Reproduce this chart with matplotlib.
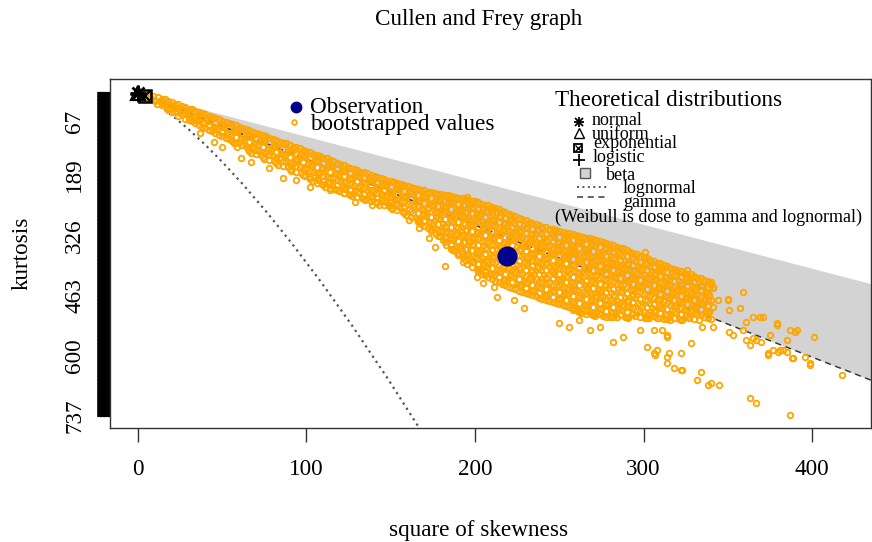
import matplotlib
matplotlib.use("Agg")
import matplotlib.pyplot as plt
import numpy as np

plt.rcParams['font.family'] = ['Liberation Serif', 'DejaVu Serif']

# observed sample
obs_s2 = 219
obs_kurt = 373

# theoretical points: normal, uniform, exponential, logistic
theo_s2 = [0, 0, 4, 0]
theo_kurt = [3, 1.8, 9, 4.2]

# beta region (between the two bounds) and gamma line
beta_s2 = [0, 450]
beta_top = [1, 451]
beta_bottom = [3, 678]
gamma_s2 = [0, 450]
gamma_kurt = [3, 678]

# lognormal curve
lnorm_s2 = [0, 2.6, 6.1, 10.5, 16, 22.6, 30.4, 39.5, 50, 62.0, 75.6, 90.9, 108, 127.0, 147.9, 170.9, 196]
lnorm_kurt = [3, 8.0, 15.6, 26.3, 41, 60.6, 86.1, 118.5, 159, 208.9, 269.6, 342.4, 429, 531.0, 650.1, 788.1, 947]

# bootstrapped values (dense core, one line per column)
boot_s2 = [
    3, 2, 4, 6, 7, 5, 9, 8, 10, 12, 13, 11, 16, 15, 17,
    20, 21, 19, 20, 24, 23, 25, 24, 28, 29, 27, 28, 32, 31, 33, 32,
    36, 37, 35, 36, 40, 41, 39, 40, 44, 43, 45, 44, 48, 49, 47, 48,
    52, 51, 53, 52,
    56, 57, 55, 56, 57, 60, 59, 61, 60, 59, 64, 65, 63, 64, 65,
    68, 67, 69, 68, 67, 72, 73, 71, 72, 73, 76, 75, 77, 76, 75,
    80, 81, 79, 80, 81, 84, 83, 85, 84, 83, 88, 89, 87, 88, 89,
    92, 91, 93, 92, 91, 96, 97, 95, 96, 97, 100, 99, 101, 100, 99,
    104, 105, 103, 104, 105, 103,
    108, 107, 109, 108, 107, 109,
    112, 113, 111, 112, 113, 111,
    116, 115, 117, 116, 115, 117,
    120, 121, 119, 120, 121, 119,
    124, 123, 125, 124, 123, 125,
    128, 129, 127, 128, 129, 127,
    132, 131, 133, 132, 131, 133,
    136, 137, 135, 136, 137, 135,
    140, 139, 141, 140, 139, 141,
    144, 145, 143, 144, 145, 143,
    148, 147, 149, 148, 147, 149,
    152, 153, 151, 152, 153, 151,
    156, 155, 157, 156, 155, 157,
    160, 161, 159, 160, 161, 159,
    164, 163, 165, 164, 163, 165,
    168, 169, 167, 168, 169, 167, 168,
    172, 171, 173, 172, 171, 173, 172,
    176, 177, 175, 176, 177, 175, 176, 177,
    180, 179, 181, 180, 179, 181, 180, 179, 181,
    184, 185, 183, 184, 185, 183, 184, 185, 183,
    188, 187, 189, 188, 187, 189, 188, 187, 189, 188,
    192, 193, 191, 192, 193, 191, 192, 193, 191, 192, 193,
    196, 197, 195, 196, 197, 195, 196, 197, 195, 196, 197, 195,
    200, 199, 201, 200, 199, 201, 200, 199, 201, 200, 199, 201,
    204, 205, 203, 204, 205, 203, 204, 205, 203, 204, 205, 203, 204,
    208, 207, 209, 208, 207, 209, 208, 207, 209, 208, 207, 209, 208,
    212, 213, 211, 212, 213, 211, 212, 213, 211, 212, 213, 211, 212,
    216, 215, 217, 216, 215, 217, 216, 215, 217, 216, 215, 217, 216,
    220, 221, 219, 220, 221, 219, 220, 221, 219, 220, 221, 219, 220,
    224, 223, 225, 224, 223, 225, 224, 223, 225, 224, 223, 225, 224,
    228, 229, 227, 228, 229, 227, 228, 229, 227, 228, 229, 227, 228,
    232, 231, 233, 232, 231, 233, 232, 231, 233, 232, 231, 233, 232,
    236, 237, 235, 236, 237, 235, 236, 237, 235, 236, 237, 235, 236,
    240, 239, 241, 240, 239, 241, 240, 239, 241, 240, 239, 241, 240,
    244, 245, 243, 244, 245, 243, 244, 245, 243, 244, 245, 243, 244,
    248, 247, 249, 248, 247, 249, 248, 247, 249, 248, 247, 249, 248,
    252, 253, 251, 252, 253, 251, 252, 253, 251, 252, 253, 251, 252,
    256, 255, 257, 256, 255, 257, 256, 255, 257, 256, 255, 257, 256,
    260, 261, 259, 260, 261, 259, 260, 261, 259, 260, 261, 259, 260, 261,
    264, 263, 265, 264, 263, 265, 264, 263, 265, 264, 263, 265, 264, 263,
    268, 269, 267, 268, 269, 267, 268, 269, 267, 268, 269, 267, 268, 269,
    272, 271, 273, 272, 271, 273, 272, 271, 273, 272, 271, 273, 272, 271,
    276, 277, 275, 276, 277, 275, 276, 277, 275, 276, 277, 275, 276,
    280, 279, 281, 280, 279, 281, 280, 279, 281, 280, 279, 281, 280,
    284, 285, 283, 284, 285, 283, 284, 285, 283, 284, 285, 283, 284,
    288, 287, 289, 288, 287, 289, 288, 287, 289, 288, 287, 289,
    292, 293, 291, 292, 293, 291, 292, 293, 291, 292, 293, 291,
    296, 295, 297, 296, 295, 297, 296, 295, 297, 296, 295,
    300, 301, 299, 300, 301, 299, 300, 301, 299, 300, 301,
    304, 303, 305, 304, 303, 305, 304, 303, 305, 304, 303,
    308, 309, 307, 308, 309, 307, 308, 309, 307, 308,
    312, 311, 313, 312, 311, 313, 312, 311, 313, 312,
    316, 317, 315, 316, 317, 315, 316, 317, 315, 316,
    320, 319, 321, 320, 319, 321, 320, 319, 321,
    324, 325, 323, 324, 325, 323, 324, 325, 323,
    328, 327, 329, 328, 327, 329, 328, 327,
    332, 333, 331, 332, 333, 331, 332, 333,
    336, 335, 337, 336, 335, 337, 336,
    340, 341, 339, 340, 341, 339, 340,
]
boot_kurt = [
    4, 8, 13, 6, 12, 16, 10, 15, 21, 12, 20, 27, 17, 25, 36,
    22, 32, 39, 46, 28, 36, 47, 54, 33, 44, 51, 61, 38, 49, 59, 67,
    45, 53, 66, 74, 50, 62, 71, 83, 57, 66, 80, 89, 61, 74, 84, 98,
    68, 79, 93, 104,
    72, 86, 97, 111, 117, 79, 90, 105, 115, 124, 84, 98, 109, 123, 130,
    90, 101, 116, 126, 138, 95, 109, 120, 135, 144, 101, 112, 128, 139, 152,
    106, 120, 131, 146, 157, 113, 124, 140, 151, 166, 117, 132, 144, 160, 171,
    124, 136, 152, 164, 180, 128, 143, 155, 171, 184, 135, 147, 163, 176, 192,
    140, 154, 166, 182, 194, 203,
    146, 157, 173, 185, 201, 209,
    151, 165, 177, 193, 204, 215,
    158, 169, 185, 196, 211, 220,
    163, 177, 188, 203, 213, 226,
    170, 180, 195, 206, 220, 231,
    174, 188, 198, 213, 223, 236,
    181, 191, 205, 215, 230, 240,
    185, 198, 208, 222, 232, 246,
    192, 202, 216, 226, 240, 250,
    196, 209, 219, 233, 243, 257,
    202, 212, 226, 236, 250, 260,
    205, 219, 229, 243, 253, 267,
    210, 221, 236, 247, 261, 271,
    214, 228, 239, 254, 265, 280,
    219, 231, 247, 259, 275, 287,
    222, 237, 249, 265, 277, 293, 300,
    227, 239, 255, 267, 283, 295, 310,
    229, 244, 256, 272, 284, 300, 311, 322,
    233, 245, 261, 273, 289, 301, 317, 328, 337,
    235, 250, 262, 278, 290, 306, 318, 334, 347,
    239, 251, 267, 279, 295, 307, 323, 335, 351, 362,
    242, 257, 269, 285, 297, 313, 325, 341, 353, 369, 376,
    246, 258, 274, 286, 302, 314, 330, 342, 358, 370, 385, 391,
    248, 263, 275, 291, 303, 319, 331, 347, 359, 375, 387, 402,
    254, 266, 282, 294, 310, 322, 338, 350, 366, 378, 394, 406, 413,
    258, 273, 285, 301, 313, 329, 341, 357, 369, 385, 397, 413, 421,
    264, 276, 292, 304, 320, 332, 348, 360, 376, 388, 404, 416, 429,
    270, 285, 297, 313, 325, 341, 353, 369, 381, 397, 409, 425, 436,
    277, 289, 305, 317, 333, 345, 361, 373, 389, 401, 417, 429, 444,
    282, 297, 309, 325, 337, 353, 365, 381, 393, 409, 421, 437, 449,
    290, 302, 318, 330, 346, 358, 374, 386, 402, 414, 430, 442, 455,
    295, 310, 322, 338, 350, 366, 378, 394, 406, 422, 434, 450, 460,
    301, 313, 329, 341, 357, 369, 385, 397, 413, 425, 441, 453, 465,
    306, 321, 333, 349, 361, 377, 389, 405, 417, 433, 445, 461, 470,
    311, 323, 339, 351, 367, 379, 395, 407, 423, 435, 451, 463, 475,
    314, 329, 341, 357, 369, 385, 397, 413, 425, 441, 453, 469, 480,
    319, 331, 347, 359, 375, 387, 403, 415, 431, 443, 459, 471, 485,
    321, 336, 348, 364, 376, 392, 404, 420, 432, 448, 460, 476, 489,
    326, 338, 354, 366, 382, 394, 410, 422, 438, 450, 466, 478, 494, 498,
    329, 344, 356, 372, 384, 400, 412, 428, 440, 456, 468, 484, 496, 502,
    333, 345, 361, 373, 389, 401, 417, 429, 445, 457, 473, 485, 501, 506,
    336, 351, 363, 379, 391, 407, 419, 435, 447, 463, 475, 491, 503, 509,
    342, 354, 370, 382, 398, 410, 426, 438, 454, 466, 482, 494, 509,
    346, 361, 373, 389, 401, 417, 429, 445, 457, 473, 485, 501, 512,
    352, 364, 380, 392, 408, 420, 436, 448, 464, 476, 492, 504, 512,
    357, 372, 384, 400, 412, 428, 440, 456, 468, 484, 496, 511,
    364, 376, 392, 404, 420, 432, 448, 460, 476, 488, 504, 513,
    369, 384, 396, 412, 424, 440, 452, 468, 480, 496, 509,
    376, 388, 404, 416, 432, 444, 460, 472, 488, 500, 514,
    381, 396, 408, 424, 436, 452, 464, 480, 492, 508, 515,
    388, 400, 416, 428, 444, 456, 472, 484, 500, 513,
    393, 408, 420, 436, 448, 464, 476, 492, 504, 517,
    400, 412, 428, 440, 456, 468, 484, 496, 512, 518,
    404, 419, 431, 447, 459, 475, 487, 503, 516,
    411, 423, 439, 451, 467, 479, 495, 507, 519,
    415, 430, 442, 458, 470, 486, 498, 513,
    422, 434, 450, 462, 478, 490, 506, 519,
    427, 442, 454, 470, 482, 498, 511,
    433, 445, 461, 473, 489, 501, 516,
]

# more bootstrapped values of the core, between the columns above
boot_mid_cols = [
    14, 18, 22, 26, 30, 34, 38, 42, 46, 50, 54, 58, 62, 66, 70, 74, 78, 82,
    86, 90, 94, 98, 102, 106, 110, 114, 118, 122, 126, 130, 134, 138, 142,
    146, 150, 154, 158, 162, 166, 170, 174, 178, 182, 186, 190, 194, 198,
    202, 206, 210, 214, 218, 222, 226, 230, 234, 238, 242, 246, 250, 254,
    258, 262, 266, 270, 274, 278, 282, 286, 290, 294, 298, 302, 306, 310,
    314, 318, 322, 326, 330, 334, 338,
]
boot_mid_kurt = [
    [16, 23, 30], [21, 30, 40], [27, 36, 44], [32, 42, 51],
    [38, 48, 57, 64], [43, 54, 63, 71], [48, 59, 68, 79], [54, 65, 76, 86],
    [59, 71, 82, 93], [66, 78, 90, 101], [70, 83, 96, 108], [76, 89, 102, 115],
    [82, 95, 108, 120], [87, 100, 113, 126, 134], [93, 106, 119, 131, 141],
    [98, 111, 124, 137, 148], [104, 117, 130, 143, 155], [110, 123, 136, 149, 162],
    [115, 129, 142, 156, 169], [121, 134, 148, 162, 176], [126, 140, 154, 168, 182],
    [131, 145, 159, 174, 188], [137, 151, 165, 179, 193, 199],
    [143, 157, 170, 184, 198, 206], [149, 162, 176, 190, 203, 212],
    [155, 168, 181, 195, 208, 218], [161, 174, 187, 200, 212, 223],
    [166, 179, 192, 205, 217, 229], [172, 184, 197, 210, 222, 234],
    [177, 190, 202, 215, 227, 238], [183, 195, 207, 219, 231, 243],
    [188, 200, 212, 224, 236, 248], [194, 206, 218, 230, 242, 253],
    [199, 211, 223, 235, 247, 258], [203, 215, 227, 239, 251, 263],
    [207, 220, 232, 245, 257, 269], [212, 225, 238, 251, 263, 276],
    [216, 230, 243, 257, 270, 284], [220, 234, 248, 262, 276, 290, 296],
    [224, 238, 252, 266, 280, 294, 305], [228, 242, 256, 270, 284, 298, 312, 317],
    [231, 245, 259, 273, 287, 301, 315, 328],
    [234, 248, 262, 276, 290, 304, 318, 332, 342],
    [237, 251, 265, 279, 293, 307, 321, 335, 349, 356],
    [240, 254, 268, 282, 296, 310, 324, 338, 352, 366, 370],
    [244, 258, 272, 286, 300, 314, 328, 342, 356, 370, 383],
    [247, 261, 275, 289, 303, 317, 331, 345, 359, 373, 387, 397],
    [251, 265, 279, 293, 307, 321, 335, 349, 363, 377, 391, 405, 409],
    [256, 270, 284, 298, 312, 326, 340, 354, 368, 382, 396, 410, 417],
    [261, 275, 289, 303, 317, 331, 345, 359, 373, 387, 401, 415, 425],
    [267, 281, 295, 309, 323, 337, 351, 365, 379, 393, 407, 421, 432],
    [273, 287, 301, 315, 329, 343, 357, 371, 385, 399, 413, 427, 440],
    [279, 293, 307, 321, 335, 349, 363, 377, 391, 405, 419, 433, 446],
    [286, 300, 314, 328, 342, 356, 370, 384, 398, 412, 426, 440, 452],
    [292, 306, 320, 334, 348, 362, 376, 390, 404, 418, 432, 446, 457],
    [298, 312, 326, 340, 354, 368, 382, 396, 410, 424, 438, 452, 462],
    [303, 317, 331, 345, 359, 373, 387, 401, 415, 429, 443, 457, 468],
    [308, 322, 336, 350, 364, 378, 392, 406, 420, 434, 448, 462, 472],
    [312, 326, 340, 354, 368, 382, 396, 410, 424, 438, 452, 466, 477],
    [316, 330, 344, 358, 372, 386, 400, 414, 428, 442, 456, 470, 482],
    [320, 334, 348, 362, 376, 390, 404, 418, 432, 446, 460, 474, 487],
    [323, 337, 351, 365, 379, 393, 407, 421, 435, 449, 463, 477, 491, 495],
    [327, 341, 355, 369, 383, 397, 411, 425, 439, 453, 467, 481, 495, 500],
    [331, 345, 359, 373, 387, 401, 415, 429, 443, 457, 471, 485, 499, 504],
    [334, 348, 362, 376, 390, 404, 418, 432, 446, 460, 474, 488, 502, 508],
    [339, 353, 367, 381, 395, 409, 423, 437, 451, 465, 479, 493, 506],
    [344, 358, 372, 386, 400, 414, 428, 442, 456, 470, 484, 498, 511],
    [349, 363, 377, 391, 405, 419, 433, 447, 461, 475, 489, 503, 512],
    [354, 368, 382, 396, 410, 424, 438, 452, 466, 480, 494, 508],
    [360, 374, 388, 402, 416, 430, 444, 458, 472, 486, 500, 512],
    [366, 380, 394, 408, 422, 436, 450, 464, 478, 492, 506],
    [372, 386, 400, 414, 428, 442, 456, 470, 484, 498, 511],
    [378, 392, 406, 420, 434, 448, 462, 476, 490, 504, 514],
    [384, 398, 412, 426, 440, 454, 468, 482, 496, 510],
    [390, 404, 418, 432, 446, 460, 474, 488, 502, 515],
    [396, 410, 424, 438, 452, 466, 480, 494, 508, 517],
    [402, 416, 430, 444, 458, 472, 486, 500, 514],
    [407, 421, 435, 449, 463, 477, 491, 505, 518],
    [413, 427, 441, 455, 469, 483, 497, 511],
    [418, 432, 446, 460, 474, 488, 502, 516],
    [424, 438, 452, 466, 480, 494, 508],
    [430, 444, 458, 472, 486, 500, 514],
]

# bootstrapped values away from the core
boot_out_s2 = [
    213, 223, 229, 250, 256, 262, 268, 274, 282, 288, 298, 302, 306, 314, 314,
    322, 322, 328, 334, 340, 306, 311, 314, 308, 315, 307, 314, 318, 323, 332,
    338, 345, 335, 341, 351, 353, 359, 361, 363, 365, 367, 370, 363, 367, 374,
    377, 380, 383, 385, 389, 387, 399, 401, 391, 385, 379, 375, 359, 350, 357,
    361, 365, 369, 371, 351, 344, 340, 341, 350, 379, 387, 390, 418, 374, 381,
    388, 396, 399,
    129, 139, 150, 157, 161, 167, 173, 176, 182, 187, 193, 201, 205, 211, 114,
    122, 144,
    37, 45, 50, 61, 67, 78, 86, 94, 102,
    154, 169, 184, 195, 196, 205, 210, 215, 220,
    268, 282, 288, 301, 310, 326, 334,
]
boot_out_kurt = [
    466, 473, 491, 526, 535, 519, 541, 535, 569, 557, 541, 580, 594, 557, 603,
    594, 632, 571, 637, 662, 541, 541, 553, 587, 594, 598, 616, 628, 632, 655,
    667, 667, 535, 535, 546, 553, 541, 564, 576, 560, 564, 569, 696, 707, 594,
    587, 591, 587, 591, 605, 735, 616, 557, 541, 564, 530, 553, 455, 473, 491,
    523, 512, 512, 512, 496, 473, 439, 444, 471, 526, 541, 546, 644, 598, 587,
    605, 603, 621,
    250, 257, 257, 273, 291, 309, 332, 353, 396, 359, 387, 421, 435, 444, 223,
    230, 246,
    93, 114, 125, 150, 159, 173, 196, 200, 216,
    212, 234, 250, 239, 253, 264, 268, 273, 280,
    337, 355, 355, 364, 400, 405, 450,
]

x_ticks = [0, 100, 200, 300, 400]
y_ticks = [67, 189, 326, 463, 600, 737]
kurt_max = 737

W, H = 872, 542


def fx(px):
    return px / W


def fy(py):
    return 1 - py / H


fig = plt.figure(figsize=(8.72, 5.42), dpi=100)
ax = fig.add_axes([fx(110), fy(428), fx(871) - fx(110), fy(79) - fy(428)])

grey_line = '#3a3a3a'
dot_line = '#555555'

ax.fill_between(beta_s2, beta_top, beta_bottom, color='#d3d3d3', lw=0, zorder=1)
ax.plot(gamma_s2, gamma_kurt, ls=(0, (4, 3)), color=grey_line, lw=1.1, zorder=2)
ax.plot(lnorm_s2, lnorm_kurt, ls=(0, (1, 1.8)), color=dot_line, lw=1.6, zorder=2)

mid_s2 = [c for c, ks in zip(boot_mid_cols, boot_mid_kurt) for _ in ks]
mid_kurt = [k for ks in boot_mid_kurt for k in ks]
s2_all = np.concatenate([boot_s2, mid_s2, boot_out_s2])
kurt_all = np.concatenate([boot_kurt, mid_kurt, boot_out_kurt])
ax.plot(s2_all, kurt_all, 'o', ms=4.0, mfc='none', mec='#ffa500', mew=1.3, zorder=3)

ax.plot(obs_s2, obs_kurt, 'o', ms=13.5, color='#00008b', zorder=4)

# theoretical points
ax.plot(theo_s2[0], theo_kurt[0], marker='+', ms=12, mew=2, color='k', zorder=5)
ax.plot(theo_s2[0], theo_kurt[0], marker='x', ms=9, mew=2, color='k', zorder=5)
ax.plot(theo_s2[1], theo_kurt[1], marker='^', ms=10, mfc='none', mec='k', mew=1.6, zorder=5)
ax.plot(theo_s2[2], theo_kurt[2], marker='s', ms=9, mfc='none', mec='k', mew=1.8, zorder=5)
ax.plot(theo_s2[2], theo_kurt[2], marker='x', ms=7, mec='k', mew=1.6, zorder=5)
ax.plot(theo_s2[3], theo_kurt[3], marker='+', ms=12, mew=2, color='k', zorder=5)

ax.set_xlim(-16.6, 435.0)
ax.set_ylim(764.3, -29.6)

ax.set_xticks(x_ticks)
ax.set_xticklabels([str(v) for v in x_ticks])
ax.set_yticks(y_ticks)
ax.set_yticklabels([str(v) for v in y_ticks])
ax.set_yticks(np.arange(0, kurt_max + 1), minor=True)
ax.tick_params(axis='x', length=10, width=1, color='#333333', pad=12, labelsize=16.7)
ax.tick_params(axis='y', which='both', length=9.4, width=0.8, color='k', pad=8.6,
               labelsize=16.7, labelrotation=90)
for lab in ax.get_yticklabels():
    lab.set_va('center')

for sp in ax.spines.values():
    sp.set_color('#333333')
    sp.set_linewidth(1)

fig.text(fx(479), fy(25), 'Cullen and Frey graph', ha='center', va='baseline', fontsize=16.7)
fig.text(fx(479), fy(536), 'square of skewness', ha='center', va='baseline', fontsize=16.7)
fig.text(fx(22), fy(253), 'kurtosis', ha='center', va='center', rotation=90, fontsize=16.7)

# legend for the sample
tf = fig.transFigure
ax.plot([fx(296)], [fy(107)], 'o', ms=7.5, color='#00008b', transform=tf, clip_on=False)
ax.plot([fx(294)], [fy(122)], 'o', ms=3.4, mfc='none', mec='#ffa500', mew=1.2, transform=tf, clip_on=False)
fig.text(fx(310), fy(113), 'Observation', ha='left', va='baseline', fontsize=16.7)
fig.text(fx(310), fy(130), 'bootstrapped values', ha='left', va='baseline', fontsize=16.7)

# legend for theoretical distributions
fig.text(fx(555), fy(106), 'Theoretical distributions', ha='left', va='baseline', fontsize=16.7)
ax.plot([fx(579)], [fy(122)], marker='+', ms=7, mew=1.3, color='k', transform=tf, clip_on=False)
ax.plot([fx(579)], [fy(122)], marker='x', ms=5.5, mew=1.3, color='k', transform=tf, clip_on=False)
ax.plot([fx(579)], [fy(133)], marker='^', ms=6.5, mfc='none', mec='k', mew=1, transform=tf, clip_on=False)
ax.plot([fx(578)], [fy(148)], marker='s', ms=5.5, mfc='none', mec='k', mew=1.3, transform=tf, clip_on=False)
ax.plot([fx(578)], [fy(148)], marker='x', ms=4, mec='k', mew=1, transform=tf, clip_on=False)
ax.plot([fx(579)], [fy(160)], marker='+', ms=8, mew=1.3, color='k', transform=tf, clip_on=False)
ax.plot([fx(585)], [fy(173)], marker='s', ms=7.5, mfc='#d3d3d3', mec='#555555', mew=1, transform=tf, clip_on=False)
ax.plot([fx(577), fx(607)], [fy(187), fy(187)], ls=(0, (1, 1.8)), color=dot_line, lw=1.4, transform=tf, clip_on=False)
ax.plot([fx(577), fx(607)], [fy(197), fy(197)], ls=(0, (4, 3)), color=grey_line, lw=1.1, transform=tf, clip_on=False)
small = 13
fig.text(fx(592), fy(125), 'normal', ha='left', va='baseline', fontsize=small)
fig.text(fx(592), fy(139), 'uniform', ha='left', va='baseline', fontsize=small)
fig.text(fx(593), fy(148), 'exponential', ha='left', va='baseline', fontsize=small)
fig.text(fx(593), fy(162), 'logistic', ha='left', va='baseline', fontsize=small)
fig.text(fx(606), fy(180), 'beta', ha='left', va='baseline', fontsize=small)
fig.text(fx(623), fy(193), 'lognormal', ha='left', va='baseline', fontsize=small)
fig.text(fx(623), fy(207), 'gamma', ha='left', va='baseline', fontsize=small)
fig.text(fx(555), fy(222), '(Weibull is dose to gamma and lognormal)', ha='left', va='baseline', fontsize=small)

fig.savefig('out.png', dpi=100)
